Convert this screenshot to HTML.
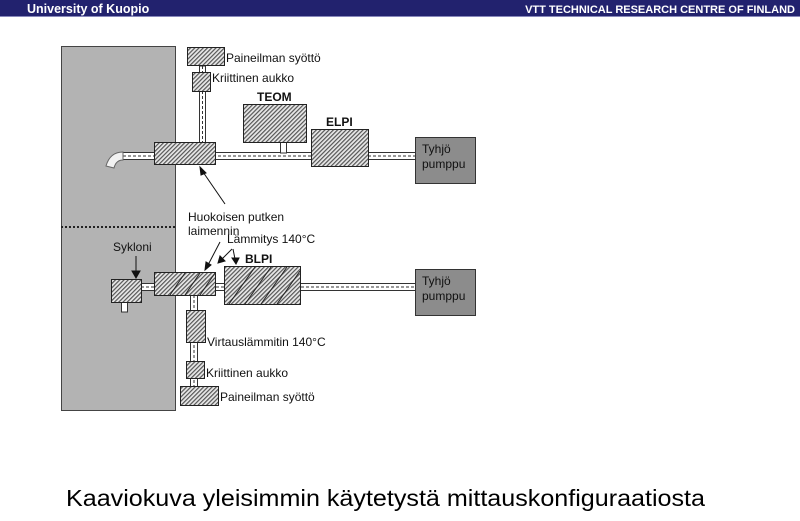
<!DOCTYPE html>
<html><head><meta charset="utf-8"><style>
html,body{margin:0;padding:0;background:#fff;width:800px;height:521px;overflow:hidden}
svg{display:block}
text{font-family:"Liberation Sans",Arial,sans-serif}
</style></head><body>
<svg width="800" height="521" viewBox="0 0 800 521" xmlns="http://www.w3.org/2000/svg">
<defs>
<pattern id="h" width="3" height="3" patternUnits="userSpaceOnUse" patternTransform="rotate(45)">
<rect width="3" height="3" fill="#e8e8e8"/><rect width="1.2" height="3" fill="#555"/>
</pattern>
<pattern id="pipe" width="6" height="2" patternUnits="userSpaceOnUse"><rect width="6" height="2" fill="#fff"/><rect width="3" height="2" fill="#333"/></pattern>
</defs>
<rect x="0" y="0" width="800" height="17" fill="#22226e"/>
<rect x="0" y="16" width="800" height="1" fill="#8888bb"/>
<text x="27" y="13" fill="#fff" font-size="12.5" font-weight="bold">University of Kuopio</text>
<text x="795" y="13" fill="#fff" font-size="11" font-weight="bold" text-anchor="end">VTT TECHNICAL RESEARCH CENTRE OF FINLAND</text>

<rect x="61.5" y="46.5" width="114" height="364" fill="#b3b3b3" stroke="#444"/>
<line x1="61" y1="227" x2="176" y2="227" stroke="#222" stroke-width="2" stroke-dasharray="2,2"/>

<!-- pipes horizontal -->
<g stroke="#333" stroke-width="1">
<rect x="123" y="152.5" width="293" height="7" fill="#fff"/>
<rect x="141" y="283.5" width="275" height="7" fill="#fff"/>
<rect x="199.5" y="66" width="6" height="77" fill="#fff"/>
<rect x="280.5" y="142" width="6" height="11" fill="#fff"/>
<rect x="190.5" y="295" width="7" height="92" fill="#fff"/>
<rect x="121.5" y="302" width="6" height="10" fill="#fff"/>
</g>
<g stroke="#333" stroke-dasharray="3,2" stroke-width="1">
<line x1="123" y1="156" x2="416" y2="156"/>
<line x1="141" y1="287" x2="416" y2="287"/>
<line x1="202.5" y1="66" x2="202.5" y2="143"/>
<line x1="194" y1="295" x2="194" y2="387"/>
</g>
<path d="M123 152 Q110 152 106 166 L114 168 Q116 160 123 160 Z" fill="#f2f2f2" stroke="#666"/>

<g stroke="#222" stroke-width="1" fill="url(#h)">
<rect x="187.5" y="47.5" width="37" height="18"/>
<rect x="192.5" y="72.5" width="18" height="19"/>
<rect x="243.5" y="104.5" width="63" height="38"/>
<rect x="311.5" y="129.5" width="57" height="37"/>
<rect x="154.5" y="142.5" width="61" height="22"/>
<rect x="111.5" y="279.5" width="30" height="23"/>
<rect x="154.5" y="272.5" width="61" height="23"/>
<rect x="224.5" y="266.5" width="76" height="38"/>
<rect x="186.5" y="310.5" width="19" height="32"/>
<rect x="186.5" y="361.5" width="18" height="17"/>
<rect x="180.5" y="386.5" width="38" height="19"/>
</g>
<g stroke="#222" stroke-width="1">
<line x1="170" y1="295" x2="185" y2="273"/><line x1="185" y1="295" x2="200" y2="273"/><line x1="200" y1="295" x2="215" y2="273"/>
<line x1="229" y1="304" x2="255" y2="267"/><line x1="245" y1="304" x2="271" y2="267"/><line x1="261" y1="304" x2="287" y2="267"/><line x1="277" y1="304" x2="300" y2="271"/>
</g>
<rect x="415.5" y="137.5" width="60" height="46" fill="#8c8c8c" stroke="#333"/>
<rect x="415.5" y="269.5" width="60" height="46" fill="#8c8c8c" stroke="#333"/>

<g font-size="12" fill="#111">
<text x="226" y="62">Paineilman syöttö</text>
<text x="212" y="82">Kriittinen aukko</text>
<text x="257" y="101" font-weight="bold">TEOM</text>
<text x="326" y="126" font-weight="bold">ELPI</text>
<text x="422" y="153">Tyhjö</text><text x="422" y="168">pumppu</text>
<text x="422" y="285">Tyhjö</text><text x="422" y="300">pumppu</text>
<text x="188" y="221">Huokoisen putken</text>
<text x="188" y="235">laimennin</text>
<text x="227" y="243">Lämmitys 140°C</text>
<text x="245" y="263" font-weight="bold">BLPI</text>
<text x="113" y="251">Sykloni</text>
<text x="207" y="346">Virtauslämmitin 140°C</text>
<text x="206" y="377">Kriittinen aukko</text>
<text x="220" y="401">Paineilman syöttö</text>
</g>
<g stroke="#111" stroke-width="1" fill="#111">
<line x1="225" y1="204" x2="203" y2="172"/><path d="M200 167 L206 173 L201 175 Z"/>
<line x1="136" y1="256" x2="136" y2="272"/><path d="M132 271 L140 271 L136 278 Z"/>
<line x1="220" y1="242" x2="208" y2="265"/><path d="M205 270 L206 262 L211 265 Z"/>
<line x1="232" y1="249" x2="222" y2="259"/><path d="M218 263 L220 256 L225 261 Z"/>
<line x1="233" y1="249" x2="235" y2="259"/><path d="M232 258 L239 258 L236 264 Z"/>
</g>
<text x="66" y="506" font-size="23" fill="#000" textLength="639" lengthAdjust="spacingAndGlyphs">Kaaviokuva yleisimmin käytetystä mittauskonfiguraatiosta</text>
</svg>
</body></html>
